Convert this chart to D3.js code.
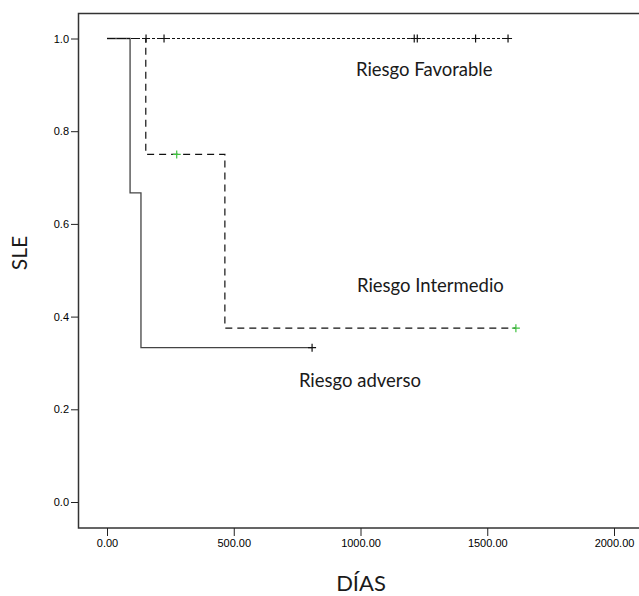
<!DOCTYPE html>
<html>
<head>
<meta charset="utf-8">
<script src="https://cdn.jsdelivr.net/npm/d3@7"></script>
<style>
  body { margin: 0; background: #fff; }
  .tick text { font-family: "Liberation Sans", Arial, sans-serif; font-size: 11px; fill: #000; }
  .lbl { font-family: Lato, "Open Sans", sans-serif; fill: #1a1a1a; }
</style>
</head>
<body>
<script>
// chart size
const w = 639;
const h = 596;

// --- data ---
const xTicks = [0, 500, 1000, 1500, 2000];
const yTicks = [0, 0.2, 0.4, 0.6, 0.8, 1.0];

// step curves: time of each step and survival after it
const favorableT = [0, 1582];
const favorableS = [1, 1];
const intermedioT = [0, 153, 465, 1613];
const intermedioS = [1, 0.75, 0.375, 0.375];
const adversoT = [0, 91, 134, 809];
const adversoS = [1, 0.667, 0.333, 0.333];

// censored cases
const favorableCensT = [154, 225, 1212, 1224, 1454, 1582];
const favorableCensS = [1, 1, 1, 1, 1, 1];
const intermedioCensT = [275, 1613];
const intermedioCensS = [0.75, 0.375];
const adversoCensT = [809];
const adversoCensS = [0.333];

const groupLabels = ["Riesgo Favorable", "Riesgo Intermedio", "Riesgo adverso"];
const labelT = [982, 986, 757];
const labelS = [0.934, 0.467, 0.263];

let svg = d3.select("body").append("svg")
  .attr("width", w)
  .attr("height", h);

// scales
let xScale = d3.scaleLinear().domain([0, 2000]).range([107, 614]);
let yScale = d3.scaleLinear().domain([0, 1]).range([502, 38.5]);

// frame (right side runs past the picture)
svg.append("rect")
  .attr("x", 78.5).attr("y", 13.5)
  .attr("width", 600).attr("height", 514.5)
  .attr("fill", "none")
  .attr("stroke", "#333")
  .attr("stroke-width", 1.5);

// axes
let xAxis = d3.axisBottom(xScale).tickValues(xTicks).tickSize(8).tickPadding(3)
  .tickFormat(d3.format(".2f"));
let gx = svg.append("g").attr("transform", "translate(0,528)").call(xAxis);
gx.select(".domain").remove();
gx.selectAll(".tick line").attr("stroke", "#222");

let yAxis = d3.axisLeft(yScale).tickValues(yTicks).tickSize(7).tickPadding(2)
  .tickFormat(d3.format(".1f"));
let gy = svg.append("g").attr("transform", "translate(78,0)").call(yAxis);
gy.select(".domain").remove();
gy.selectAll(".tick line").attr("stroke", "#222");

// step line
let step = d3.line()
  .x(d => xScale(d[0]))
  .y(d => yScale(d[1]))
  .curve(d3.curveStepAfter);

function drawCurve(T, S, color, dash, width) {
  svg.append("path")
    .datum(T.map((t, i) => [t, S[i]]))
    .attr("d", step)
    .attr("fill", "none")
    .attr("stroke", color)
    .attr("stroke-width", width)
    .attr("stroke-dasharray", dash);
}

drawCurve(adversoT, adversoS, "#444", null, 1.3);
drawCurve(intermedioT, intermedioS, "#111", "7,5", 1.2);
drawCurve(favorableT, favorableS, "#111", "3,2", 1);

// censor marks
function drawCensor(T, S, color) {
  let g = svg.append("g");
  T.forEach((t, i) => {
    const cx = xScale(t), cy = yScale(S[i]);
    g.append("path")
      .attr("d", `M${cx - 4},${cy}H${cx + 4}M${cx},${cy - 4}V${cy + 4}`)
      .attr("stroke", color)
      .attr("stroke-width", 1.2)
      .attr("fill", "none");
  });
}
drawCensor(favorableCensT, favorableCensS, "#111");
drawCensor(adversoCensT, adversoCensS, "#111");
drawCensor(intermedioCensT, intermedioCensS, "#3fc23f");

// group labels
groupLabels.forEach((s, i) => {
  svg.append("text")
    .attr("class", "lbl")
    .attr("x", xScale(labelT[i]))
    .attr("y", yScale(labelS[i]))
    .attr("dy", "0.35em")
    .attr("font-size", 18.5)
    .text(s);
});

// axis titles
svg.append("text")
  .attr("class", "lbl")
  .attr("x", 361).attr("y", 583)
  .attr("dy", "0.35em")
  .attr("text-anchor", "middle")
  .attr("font-size", 22)
  .text("DÍAS");

svg.append("text")
  .attr("class", "lbl")
  .attr("transform", "translate(20,253) rotate(-90)")
  .attr("dy", "0.35em")
  .attr("text-anchor", "middle")
  .attr("font-size", 21)
  .text("SLE");
</script>
</body>
</html>
